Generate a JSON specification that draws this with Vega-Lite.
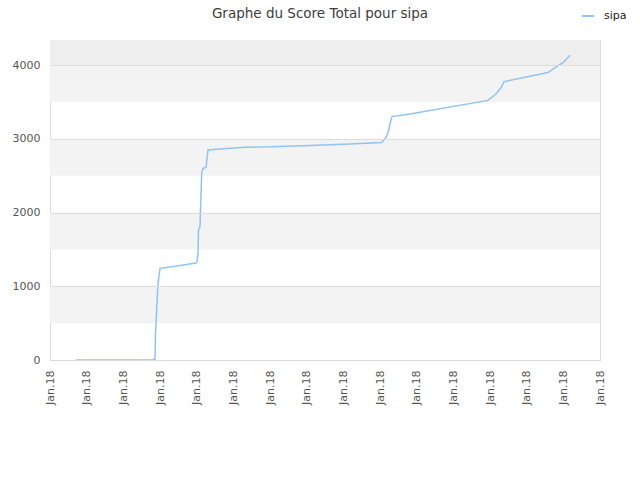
{
  "$schema": "https://vega.github.io/schema/vega-lite/v6.json",
  "autosize": "none",
  "width": 550,
  "height": 320,
  "padding": {"left": 50, "top": 40, "right": 40, "bottom": 120},
  "background": "white",
  "config": {
    "font": "DejaVu Sans",
    "view": {"stroke": "#dddddd", "fill": "white"}
  },
  "title": {
    "text": "Graphe du Score Total pour sipa",
    "fontSize": 13.5,
    "fontWeight": "normal",
    "color": "#3d3d3d",
    "anchor": "middle",
    "dx": -5,
    "offset": -11
  },
  "datasets": {
    "bands": [
      {"lo": 500, "hi": 1000},
      {"lo": 1500, "hi": 2000},
      {"lo": 2500, "hi": 3000},
      {"lo": 3500, "hi": 4000}
    ],
    "topband": [
      {"lo": 4000, "hi": 4339}
    ],
    "score": [
      {"t": 0.709, "score": 0, "serie": "sipa"},
      {"t": 2.809, "score": 5, "serie": "sipa"},
      {"t": 2.864, "score": 10, "serie": "sipa"},
      {"t": 2.877, "score": 350, "serie": "sipa"},
      {"t": 2.91, "score": 690, "serie": "sipa"},
      {"t": 2.945, "score": 1040, "serie": "sipa"},
      {"t": 3.0, "score": 1243, "serie": "sipa"},
      {"t": 3.409, "score": 1270, "serie": "sipa"},
      {"t": 3.982, "score": 1315, "serie": "sipa"},
      {"t": 4.009, "score": 1330, "serie": "sipa"},
      {"t": 4.036, "score": 1450, "serie": "sipa"},
      {"t": 4.05, "score": 1763, "serie": "sipa"},
      {"t": 4.091, "score": 1808, "serie": "sipa"},
      {"t": 4.137, "score": 2531, "serie": "sipa"},
      {"t": 4.173, "score": 2599, "serie": "sipa"},
      {"t": 4.255, "score": 2610, "serie": "sipa"},
      {"t": 4.309, "score": 2847, "serie": "sipa"},
      {"t": 4.636, "score": 2861, "serie": "sipa"},
      {"t": 5.318, "score": 2885, "serie": "sipa"},
      {"t": 6.0, "score": 2890, "serie": "sipa"},
      {"t": 7.091, "score": 2910, "serie": "sipa"},
      {"t": 8.182, "score": 2930, "serie": "sipa"},
      {"t": 9.041, "score": 2950, "serie": "sipa"},
      {"t": 9.136, "score": 3000, "serie": "sipa"},
      {"t": 9.218, "score": 3078, "serie": "sipa"},
      {"t": 9.273, "score": 3200, "serie": "sipa"},
      {"t": 9.327, "score": 3300, "serie": "sipa"},
      {"t": 9.818, "score": 3336, "serie": "sipa"},
      {"t": 11.945, "score": 3520, "serie": "sipa"},
      {"t": 12.182, "score": 3616, "serie": "sipa"},
      {"t": 12.318, "score": 3706, "serie": "sipa"},
      {"t": 12.382, "score": 3774, "serie": "sipa"},
      {"t": 13.582, "score": 3897, "serie": "sipa"},
      {"t": 13.818, "score": 3979, "serie": "sipa"},
      {"t": 14.0, "score": 4034, "serie": "sipa"},
      {"t": 14.182, "score": 4133, "serie": "sipa"}
    ]
  },
  "layer": [
    {
      "data": {"name": "bands"},
      "mark": {"type": "rect", "fill": "#f3f3f3"},
      "encoding": {
        "y": {"field": "lo", "type": "quantitative"},
        "y2": {"field": "hi"}
      }
    },
    {
      "data": {"name": "topband"},
      "mark": {"type": "rect", "fill": "#eeeeee"},
      "encoding": {
        "y": {"field": "lo", "type": "quantitative"},
        "y2": {"field": "hi"}
      }
    },
    {
      "data": {"name": "score"},
      "mark": {"type": "line", "strokeWidth": 1.5, "interpolate": "linear"},
      "encoding": {
        "x": {
          "field": "t",
          "type": "quantitative",
          "scale": {"domain": [0, 15], "nice": false, "zero": false},
          "axis": {
            "title": null,
            "values": [0, 1, 2, 3, 4, 5, 6, 7, 8, 9, 10, 11, 12, 13, 14, 15],
            "labelExpr": "'Jan.18'",
            "labelAngle": -90,
            "labelFontSize": 11,
            "labelColor": "#555555",
            "labelPadding": 10,
            "ticks": false,
            "grid": false,
            "domainColor": "#cccccc",
            "labelOverlap": false,
            "labelFlush": false
          }
        },
        "y": {
          "field": "score",
          "type": "quantitative",
          "scale": {"domain": [0, 4339], "nice": false, "zero": false},
          "axis": {
            "title": null,
            "format": "d",
            "values": [0, 500, 1000, 1500, 2000, 2500, 3000, 3500, 4000],
            "labelFontSize": 11,
            "labelColor": "#555555",
            "labelPadding": 10,
            "ticks": false,
            "domain": false,
            "gridColor": "#dddddd",
            "zindex": 1,
            "labelFlush": false
          }
        },
        "color": {
          "field": "serie",
          "type": "nominal",
          "scale": {"range": ["#90c3f3"]},
          "legend": {
            "title": null,
            "orient": "none",
            "legendX": 531,
            "legendY": -31,
            "symbolType": "stroke",
            "symbolStrokeWidth": 2,
            "symbolSize": 144,
            "labelOffset": 9,
            "labelFontSize": 11,
            "labelColor": "#222222"
          }
        }
      }
    }
  ]
}
